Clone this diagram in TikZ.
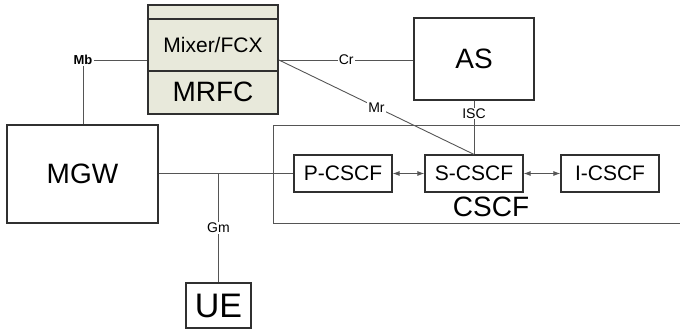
\documentclass[tikz,border=0pt]{standalone}
\usepackage{fontspec}
\setmainfont{Liberation Sans}
\usetikzlibrary{arrows.meta}
\definecolor{mrfcfill}{HTML}{E8E9DB}
\definecolor{boxline}{HTML}{303030}
\definecolor{conn}{HTML}{555555}
\newcommand{\fsz}[1]{\fontsize{#1}{#1}\selectfont}
\tikzset{
  box/.style={draw=boxline, line width=1.2pt, rectangle, inner sep=0pt, anchor=center},
  bigtxt/.style={font=\fsz{28}},
  midtxt/.style={font=\fsz{21}},
  lbl/.style={font=\fsz{14}, fill=white, inner sep=1pt},
  wire/.style={draw=conn, line width=0.9pt},
  dbl/.style={wire, {Latex[length=7pt,width=5pt]}-{Latex[length=7pt,width=5pt]}}
}
\begin{document}
\begin{tikzpicture}[x=1pt,y=-1pt]
\useasboundingbox (0,0) rectangle (680,332);
% MRFC
\node[box, fill=mrfcfill, line width=1.8pt, minimum width=130pt, minimum height=109pt] (mrfc) at (213,59.5) {};
\node[box, line width=1.8pt, minimum width=130pt, minimum height=52pt, midtxt] (mix) at (213,45) {Mixer/FCX};
\node[bigtxt] (mrfct) at (213,92) {MRFC};
% AS
\node[box, minimum width=120pt, minimum height=82pt, bigtxt] (as) at (474,59) {AS};
% MGW
\node[box, minimum width=151pt, minimum height=98pt, bigtxt] (mgw) at (82.5,174) {MGW};
% UE
\node[box, minimum width=65pt, minimum height=45pt, font=\fsz{34}] (ue) at (218.5,305.5) {UE};
% CSCF group
\coordinate (ctr) at (680,125);
\coordinate (ctl) at (273,125);
\coordinate (cbl) at (273,223);
\coordinate (cbr) at (680,223);
\draw[draw=conn, line width=1pt] (ctr) -- (ctl) -- (cbl) -- (cbr);
\node[bigtxt] (cscf) at (491,207) {CSCF};
\node[box, minimum width=98pt, minimum height=37pt, midtxt] (p) at (343,173.5) {P-CSCF};
\node[box, minimum width=98pt, minimum height=37pt, midtxt] (s) at (474,173.5) {S-CSCF};
\node[box, minimum width=98pt, minimum height=37pt, midtxt] (i) at (610,173.5) {I-CSCF};
% connectors
\node[font=\bfseries\fsz{13}, inner sep=1pt] (mb) at (83,60) {Mb};
\draw[wire] (mb.east) -- (mix.west |- mb);
\draw[wire] (mb.south) -- (mgw.north -| mb);
\coordinate (mrfcr) at (mix.east |- mb);
\draw[wire] (mrfcr) -- node[lbl] {Cr} (as.west |- mrfcr);
\draw[wire] (mrfcr) -- node[lbl] {Mr} (s.north);
\draw[wire] (as.south) -- node[lbl, pos=0.24] {ISC} (s.north);
\draw[wire] (mgw.east |- p) -- (p.west);
\coordinate (gmj) at (ue.north |- p);
\draw[wire] (gmj) -- node[lbl] {Gm} (ue.north);
\draw[dbl] (p.east) -- (s.west);
\draw[dbl] (s.east) -- (i.west);
\end{tikzpicture}
\end{document}
